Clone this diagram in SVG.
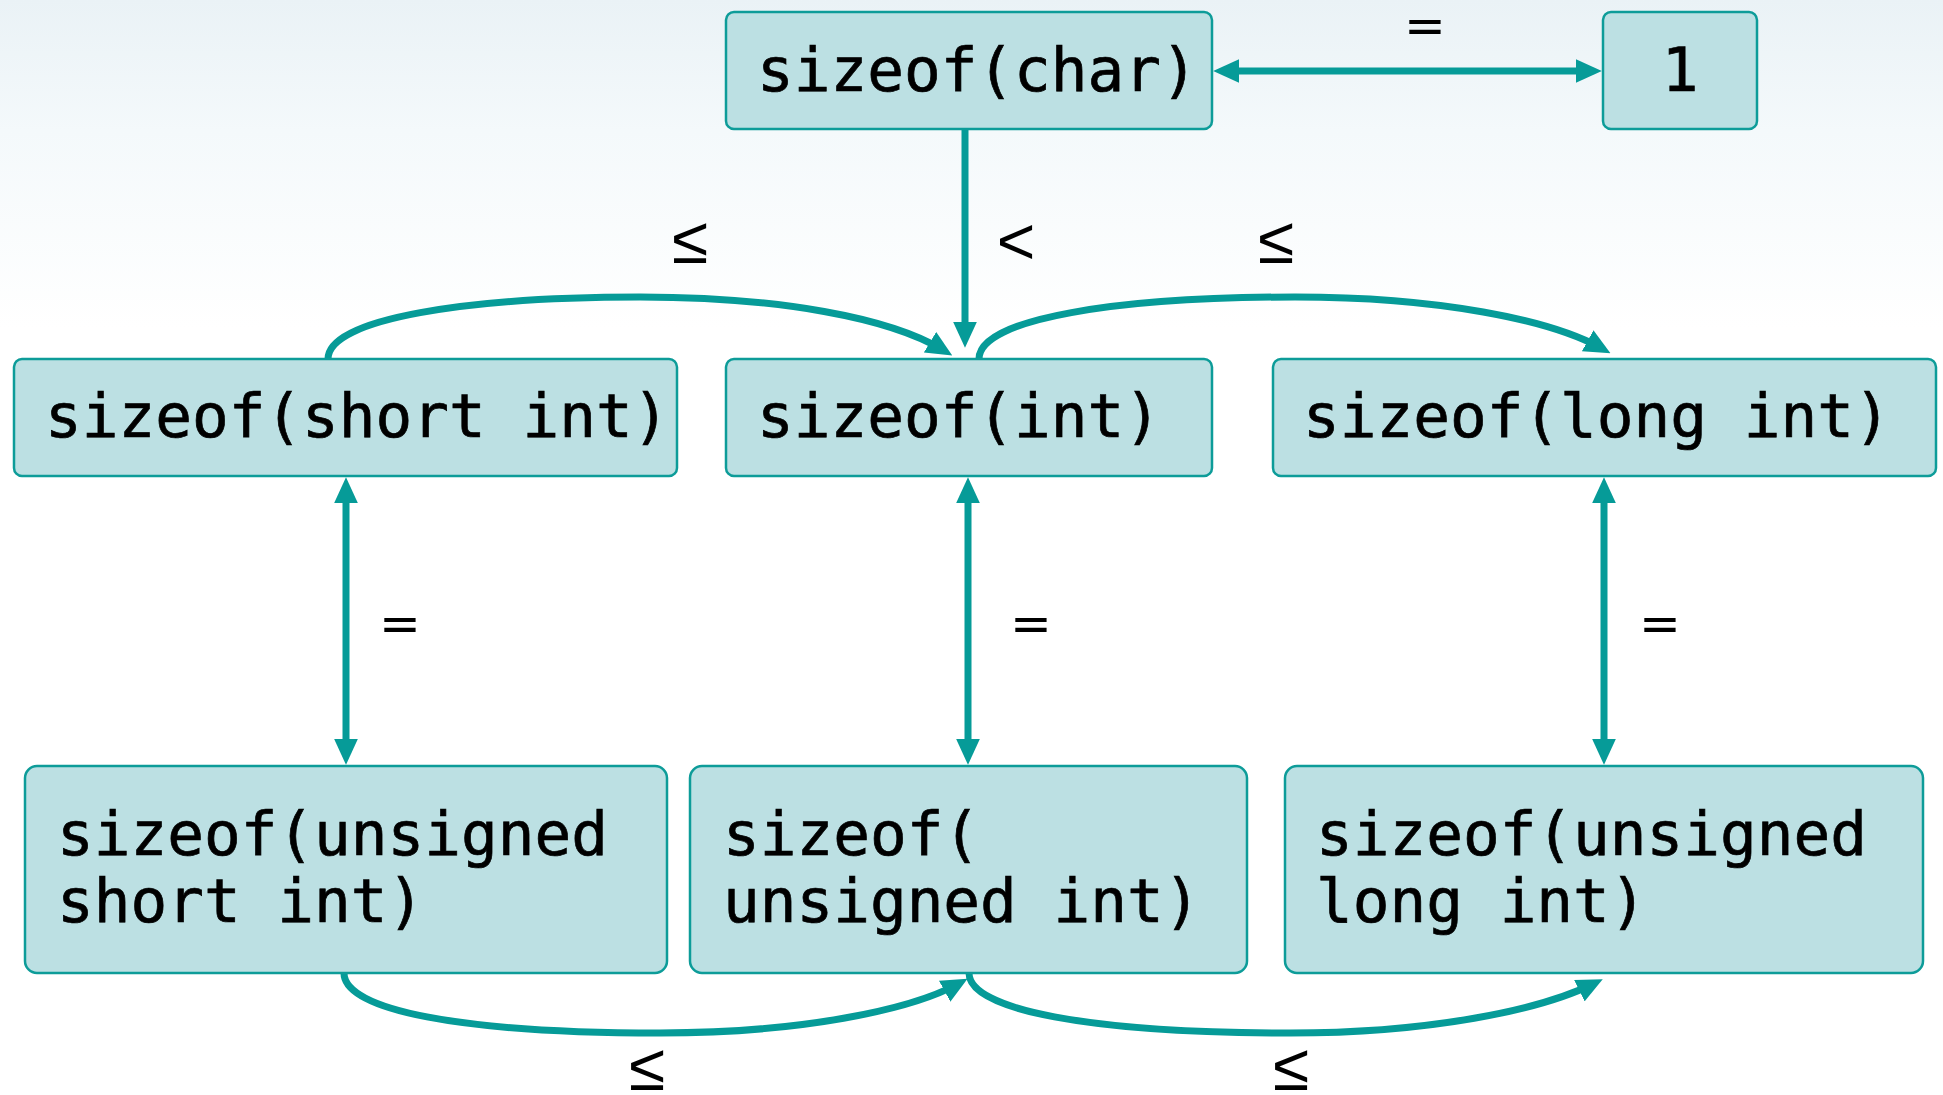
<svg xmlns="http://www.w3.org/2000/svg" width="1943" height="1095" viewBox="0 0 1943 1095">
  <defs>
    <linearGradient id="bg" x1="0" y1="0" x2="0" y2="1">
      <stop offset="0" stop-color="#eaf2f6"/>
      <stop offset="0.12" stop-color="#f4f9fb"/>
      <stop offset="0.3" stop-color="#ffffff"/>
      <stop offset="1" stop-color="#ffffff"/>
    </linearGradient>
    <marker id="ah" markerUnits="userSpaceOnUse" markerWidth="26" markerHeight="24" viewBox="0 0 24 22" refX="14" refY="11" orient="auto-start-reverse">
      <path d="M0,0 L24,11 L0,22 z" fill="#069b98"/>
    </marker>
  </defs>
  <style>
    .box { fill: #bce0e3; stroke: #0d9c99; stroke-width: 2.5; }
    .code { font-family: "DejaVu Sans Mono", "Liberation Mono", monospace; font-size: 61px; fill: #000; stroke: #000; stroke-width: 0.7; }
    .lbl { font-family: "DejaVu Sans", "Liberation Sans", sans-serif; font-size: 50px; fill: #000; text-anchor: middle; }
    .le { font-family: "Liberation Sans", Arial, sans-serif; font-size: 66px; fill: #000; text-anchor: middle; }
    .conn { fill: none; stroke: #069b98; stroke-width: 7; }
  </style>
  <rect x="0" y="0" width="1943" height="1095" fill="url(#bg)"/>

  <g id="connectors">
    <path class="conn" d="M1224,71 L1591,71" marker-start="url(#ah)" marker-end="url(#ah)"/>
    <path class="conn" d="M965,129 L965,337" marker-end="url(#ah)"/>
    <path class="conn" d="M328,359 C328,318 470,297 640,297 C780,297 890,318 943,350" marker-end="url(#ah)"/>
    <path class="conn" d="M979,359 C979,318 1120,297 1295,297 C1440,297 1550,320 1601,348" marker-end="url(#ah)"/>
    <path class="conn" d="M346,488 L346,754" marker-start="url(#ah)" marker-end="url(#ah)"/>
    <path class="conn" d="M968,488 L968,754" marker-start="url(#ah)" marker-end="url(#ah)"/>
    <path class="conn" d="M1604,488 L1604,754" marker-start="url(#ah)" marker-end="url(#ah)"/>
    <path class="conn" d="M344,973 C344,1010 460,1033 660,1033 C800,1033 910,1010 958,984" marker-end="url(#ah)"/>
    <path class="conn" d="M969,973 C969,1010 1090,1033 1290,1033 C1430,1033 1540,1010 1593,984" marker-end="url(#ah)"/>
    <text class="lbl" x="1425" y="43">=</text>
    <text class="le" x="1016" y="264">&lt;</text>
    <text class="le" x="690" y="263">≤</text>
    <text class="le" x="1276" y="263">≤</text>
    <text class="lbl" x="400" y="641">=</text>
    <text class="lbl" x="1031" y="641">=</text>
    <text class="lbl" x="1660" y="641">=</text>
    <text class="le" x="647" y="1090">≤</text>
    <text class="le" x="1291" y="1090">≤</text>
  </g>

  <g id="node-char">
    <rect class="box" x="726" y="12" width="486" height="117" rx="8"/>
    <text class="code" x="757" y="91">sizeof(char)</text>
  </g>
  <g id="node-one">
    <rect class="box" x="1603" y="12" width="154" height="117" rx="8"/>
    <text class="code" x="1680" y="91" text-anchor="middle">1</text>
  </g>
  <g id="node-short">
    <rect class="box" x="14" y="359" width="663" height="117" rx="8"/>
    <text class="code" x="45" y="437">sizeof(short int)</text>
  </g>
  <g id="node-int">
    <rect class="box" x="726" y="359" width="486" height="117" rx="8"/>
    <text class="code" x="757" y="437">sizeof(int)</text>
  </g>
  <g id="node-long">
    <rect class="box" x="1273" y="359" width="663" height="117" rx="8"/>
    <text class="code" x="1303" y="437">sizeof(long int)</text>
  </g>
  <g id="node-ushort">
    <rect class="box" x="25" y="766" width="642" height="207" rx="12"/>
    <text class="code" x="57" y="855">sizeof(unsigned</text>
    <text class="code" x="57" y="922">short int)</text>
  </g>
  <g id="node-uint">
    <rect class="box" x="690" y="766" width="557" height="207" rx="12"/>
    <text class="code" x="723" y="855">sizeof(</text>
    <text class="code" x="723" y="922">unsigned int)</text>
  </g>
  <g id="node-ulong">
    <rect class="box" x="1285" y="766" width="638" height="207" rx="12"/>
    <text class="code" x="1316" y="855">sizeof(unsigned</text>
    <text class="code" x="1316" y="922">long int)</text>
  </g>
</svg>
